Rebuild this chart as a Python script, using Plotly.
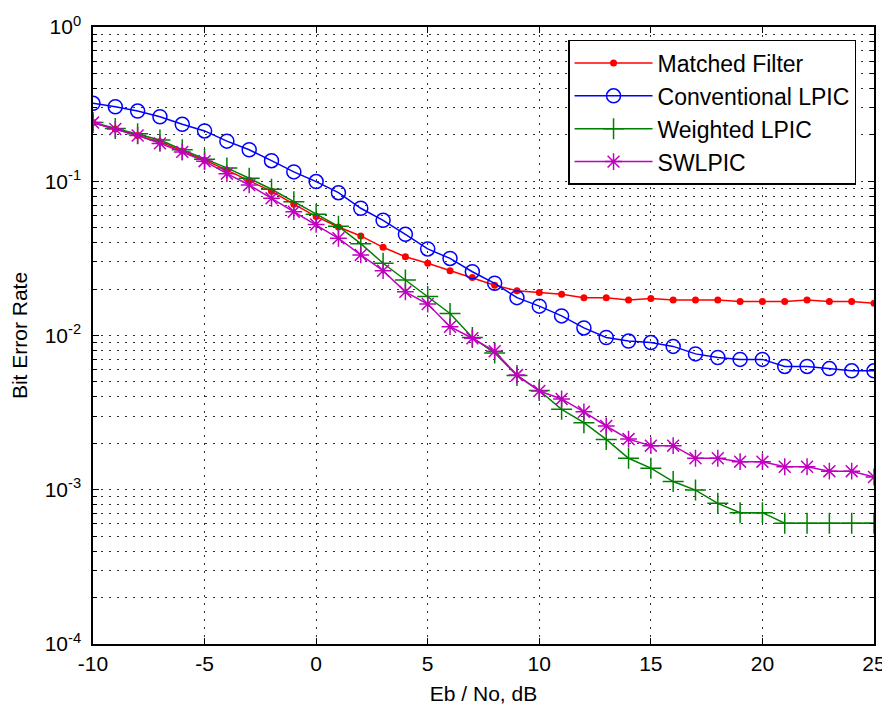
import plotly.graph_objects as go

# Eb/No in dB
ebno = [-10, -9, -8, -7, -6, -5, -4, -3, -2, -1, 0, 1, 2, 3, 4, 5, 6, 7, 8, 9,
        10, 11, 12, 13, 14, 15, 16, 17, 18, 19, 20, 21, 22, 23, 24, 25]

ber_matched = [0.24, 0.218, 0.198, 0.18, 0.157, 0.137, 0.118, 0.101, 0.086, 0.071,
               0.059, 0.0505, 0.0442, 0.0373, 0.0324, 0.0294, 0.0263, 0.0238, 0.0212, 0.0195,
               0.0190, 0.0185, 0.0176, 0.0176, 0.0170, 0.0174, 0.0170, 0.0170, 0.0170, 0.0166,
               0.0166, 0.0166, 0.0170, 0.0166, 0.0166, 0.0162]

ber_conv = [0.32, 0.304, 0.285, 0.262, 0.234, 0.212, 0.182, 0.160, 0.136, 0.115,
            0.0995, 0.0843, 0.0668, 0.0558, 0.0453, 0.0364, 0.0316, 0.0259, 0.0218, 0.0176,
            0.0155, 0.0134, 0.0112, 0.0097, 0.0092, 0.0090, 0.0085, 0.0076, 0.0072, 0.0070,
            0.0070, 0.0063, 0.0063, 0.0061, 0.0059, 0.0059]

ber_weighted = [0.24, 0.22, 0.203, 0.185, 0.160, 0.139, 0.122, 0.1045, 0.0887, 0.0737,
                0.0612, 0.051, 0.0394, 0.0294, 0.0229, 0.0179, 0.0139, 0.0097, 0.0077, 0.0055,
                0.0044, 0.00332, 0.00272, 0.00212, 0.0016, 0.00138, 0.00113, 0.000995, 0.000816, 0.00071,
                0.00071, 0.000607, 0.000607, 0.000607, 0.000607, 0.000607]

ber_swlpic = [0.24, 0.218, 0.198, 0.176, 0.155, 0.135, 0.112, 0.0946, 0.0775, 0.0635,
              0.0525, 0.0427, 0.0333, 0.0263, 0.0192, 0.0160, 0.0114, 0.0096, 0.0079, 0.00554,
              0.00437, 0.00388, 0.0032, 0.00259, 0.00213, 0.00193, 0.00193, 0.0016, 0.0016, 0.00152,
              0.00152, 0.00141, 0.00141, 0.00132, 0.00132, 0.00121]

series_names = ["Matched Filter", "Conventional LPIC", "Weighted LPIC", "SWLPIC"]

x_tickvals = [-10, -5, 0, 5, 10, 15, 20, 25]
x_ticktext = ["-10", "-5", "0", "5", "10", "15", "20", "25"]
y_exponents = [-4, -3, -2, -1, 0]
y_tickvals = [10.0 ** e for e in y_exponents]
y_ticktext = ["10<sup>-4</sup>", "10<sup>-3</sup>", "10<sup>-2</sup>", "10<sup>-1</sup>", "10<sup>0</sup>"]
y_minorvals = [m * 10.0 ** e for e in [-4, -3, -2, -1] for m in range(2, 10)]

FONT = "Liberation Sans, Arial, sans-serif"
GRID = dict(gridcolor="rgba(0,0,0,0.8)", gridwidth=1, griddash="2px,6px")

fig = go.Figure()
styles = [
    dict(color="#ff0000", symbol="circle", size=7, lw=0),
    dict(color="#0000ff", symbol="circle-open", size=14, lw=1.5),
    dict(color="#008000", symbol="cross-thin-open", size=15, lw=1.5),
    dict(color="#bf00bf", symbol="asterisk-open", size=14, lw=1.5),
]
for i, (name, ys) in enumerate(zip(series_names, [ber_matched, ber_conv, ber_weighted, ber_swlpic])):
    s = styles[i]
    fig.add_trace(go.Scatter(
        x=ebno, y=ys, name=name, mode="lines+markers",
        line=dict(color=s["color"], width=1.5),
        marker=dict(symbol=s["symbol"], size=s["size"], color=s["color"],
                    line=dict(color=s["color"], width=s["lw"])),
    ))

fig.update_layout(
    width=882, height=700,
    margin=dict(l=85, r=16, t=19, b=64),
    paper_bgcolor="white", plot_bgcolor="white",
    font=dict(family=FONT, size=21, color="black"),
    showlegend=True,
    legend=dict(
        x=0.977, y=0.979, xanchor="right", yanchor="top",
        bgcolor="white", bordercolor="black", borderwidth=1.5,
        font=dict(family=FONT, size=23, color="black"),
        itemwidth=78,
    ),
    xaxis=dict(
        range=[-10, 25], tickmode="array", tickvals=x_tickvals, ticktext=x_ticktext,
        ticks="inside", ticklen=6, tickcolor="black", showline=True, linecolor="black",
        linewidth=1.5, mirror="ticks", showgrid=True, zeroline=False, **GRID,
        title=dict(text="Eb / No, dB", standoff=12, font=dict(size=21)),
        tickfont=dict(size=21), automargin=False,
    ),
    yaxis=dict(
        type="log", range=[-4, 0], tickmode="array", tickvals=y_tickvals, ticktext=y_ticktext,
        ticks="inside", ticklen=6, tickcolor="black", showline=True, linecolor="black",
        linewidth=1.5, mirror="ticks", showgrid=True, zeroline=False, **GRID,
        minor=dict(tickmode="array", tickvals=y_minorvals, ticks="inside", ticklen=4,
                   tickcolor="black", showgrid=True, **GRID),
        title=dict(text="Bit Error Rate", standoff=14, font=dict(size=21)),
        tickfont=dict(size=21), ticklabelstandoff=6, automargin=False,
    ),
)

fig.write_html("out.html")
